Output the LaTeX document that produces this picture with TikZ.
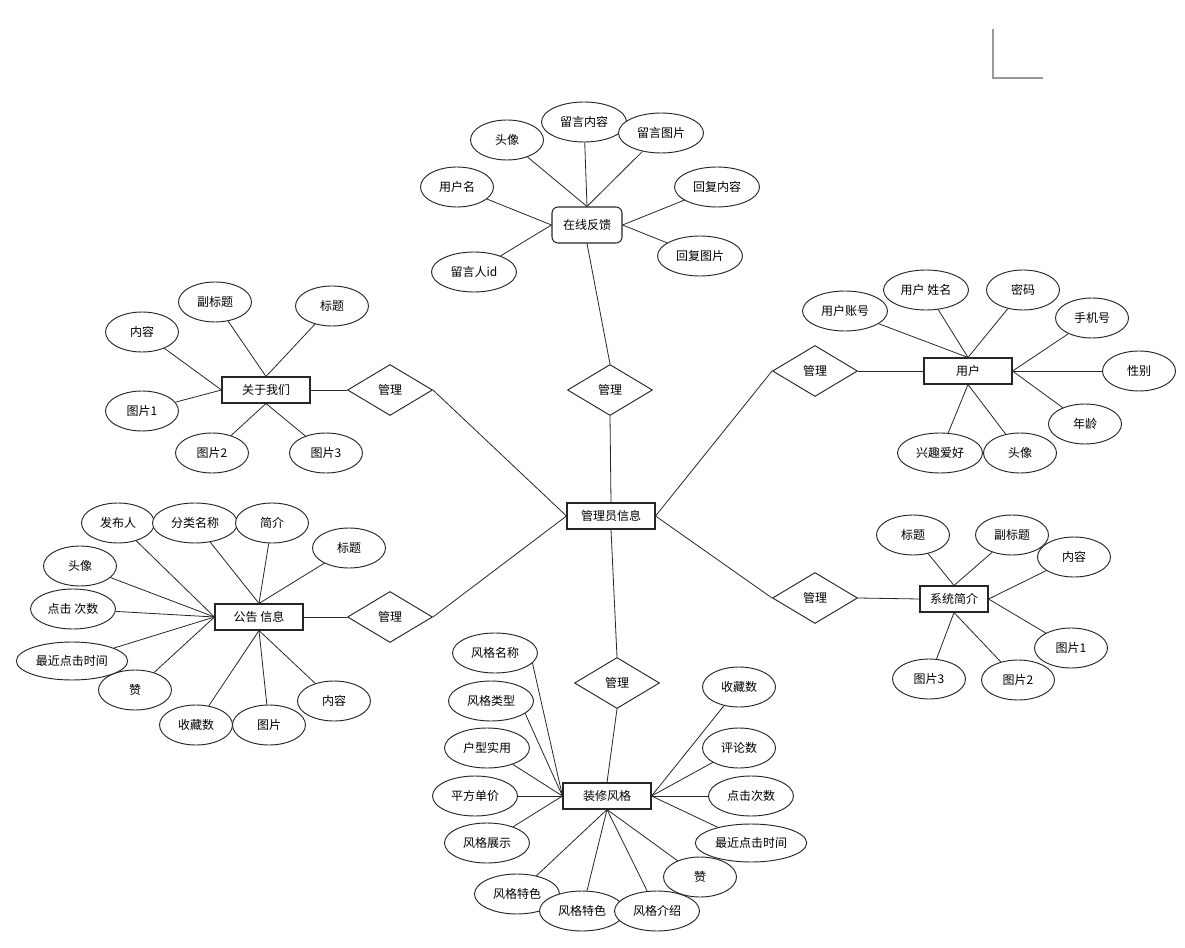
\documentclass[tikz,border=0pt]{standalone}
\usepackage{fontspec}
\usepackage{tikz}
\usetikzlibrary{shapes.geometric}
\newfontfamily\cjk{Noto Sans CJK SC}
\tikzset{
  attr/.style={ellipse, draw=black!85, line width=0.7pt, fill=white, inner sep=0pt,
    minimum width=54.75pt, minimum height=30pt, font=\cjk\fontsize{9}{10}\selectfont},
  attrw/.style={attr, minimum width=63.75pt},
  attrx/.style={attr, minimum width=83.5pt, minimum height=28.5pt},
  entity/.style={draw=black!85, line width=0.8pt, fill=white, inner sep=0pt,
    minimum width=66pt, minimum height=19.5pt, font=\cjk\fontsize{9}{10}\selectfont},
  feed/.style={entity, rounded corners=4.5pt, minimum width=52.5pt, minimum height=27pt},
  rel/.style={diamond, draw=black!85, line width=0.7pt, fill=white, inner sep=0pt,
    minimum width=63.75pt, minimum height=38.25pt, font=\cjk\fontsize{9}{10}\selectfont},
  link/.style={draw=black!85, line width=0.6pt},
}
\begin{document}
\begin{tikzpicture}[x=0.75pt,y=-0.75pt]
\useasboundingbox (0,0) rectangle (1185,948);
\draw[black!40, line width=0.9pt] (993,29) -- (993,78) -- (1043,78);
% centre
\node[entity] (adm) at (611,516) {管理员信息};
% online feedback
\node[feed] (fb) at (587,225) {在线反馈};
\node[rel] (m1) at (610,390) {管理};
\node[attr] (fb-avatar) at (507,140) {头像};
\node[attrw] (fb-msg) at (584,122) {留言内容};
\node[attrw] (fb-pic) at (661,133) {留言图片};
\node[attr] (fb-user) at (457,187) {用户名};
\node[attrw] (fb-reply) at (717,187) {回复内容};
\node[attrw] (fb-uid) at (474,272) {留言人id};
\node[attrw] (fb-rpic) at (700,256) {回复图片};
% about us
\node[entity] (ab) at (266,390) {关于我们};
\node[rel] (m2) at (390,390) {管理};
\node[attr] (ab-content) at (142,332) {内容};
\node[attr] (ab-sub) at (215,302) {副标题};
\node[attr] (ab-title) at (332,306) {标题};
\node[attr] (ab-p1) at (142,411) {图片1};
\node[attr] (ab-p2) at (212,453) {图片2};
\node[attr] (ab-p3) at (326,453) {图片3};
% user
\node[entity] (us) at (968,371) {用户};
\node[rel] (m3) at (815,371) {管理};
\node[attrw] (us-acc) at (845,311) {用户账号};
\node[attrw] (us-name) at (926,290) {用户 姓名};
\node[attr] (us-pwd) at (1023,290) {密码};
\node[attr] (us-phone) at (1092,318) {手机号};
\node[attr] (us-sex) at (1139,371) {性别};
\node[attr] (us-age) at (1085,424) {年龄};
\node[attrw] (us-hobby) at (940,453) {兴趣爱好};
\node[attr] (us-avatar) at (1020,453) {头像};
% notice
\node[entity] (nt) at (259,617) {公告 信息};
\node[rel] (m4) at (390,617) {管理};
\node[attr] (nt-pub) at (118,523) {发布人};
\node[attrw] (nt-cat) at (195,523) {分类名称};
\node[attr] (nt-intro) at (272,523) {简介};
\node[attr] (nt-title) at (349,548) {标题};
\node[attr] (nt-avatar) at (80,566) {头像};
\node[attrw] (nt-clicks) at (73,609) {点击 次数};
\node[attr] (nt-like) at (135,690) {赞};
\node[attrx] (nt-last) at (72,661) {最近点击时间};
\node[attr] (nt-fav) at (196,725) {收藏数};
\node[attr] (nt-pic) at (269,725) {图片};
\node[attr] (nt-content) at (334,701) {内容};
% system intro
\node[entity, minimum width=51pt] (sy) at (954,599) {系统简介};
\node[rel] (m5) at (815,598) {管理};
\node[attr] (sy-title) at (913,535) {标题};
\node[attr] (sy-sub) at (1012,535) {副标题};
\node[attr] (sy-content) at (1074,557) {内容};
\node[attr] (sy-p1) at (1071,648) {图片1};
\node[attr] (sy-p2) at (1018,680) {图片2};
\node[attr] (sy-p3) at (929,679) {图片3};
% decoration style
\node[entity] (st) at (607,796) {装修风格};
\node[rel] (m6) at (617,683) {管理};
\node[attrw] (st-name) at (495,653) {风格名称};
\node[attrw] (st-type) at (491,701) {风格类型};
\node[attrw] (st-layout) at (487,748) {户型实用};
\node[attrw] (st-price) at (475,796) {平方单价};
\node[attrw] (st-show) at (487,843) {风格展示};
\node[attrw] (st-feat1) at (517,894) {风格特色};
\node[attrw] (st-feat2) at (582,911) {风格特色};
\node[attrw] (st-desc) at (657,911) {风格介绍};
\node[attr] (st-like) at (700,877) {赞};
\node[attrx] (st-last) at (751,843) {最近点击时间};
\node[attrw] (st-clicks) at (751,796) {点击次数};
\node[attr] (st-cmt) at (739,748) {评论数};
\node[attr] (st-fav) at (739,687) {收藏数};
% connectors
\draw[link] (fb-avatar) -- (fb.north);
\draw[link] (fb-msg) -- (fb.north);
\draw[link] (fb-pic) -- (fb.north);
\draw[link] (fb-user) -- (fb.west);
\draw[link] (fb-uid) -- (fb.west);
\draw[link] (fb-reply) -- (fb.east);
\draw[link] (fb-rpic) -- (fb.east);
\draw[link] (fb.south) -- (m1.north);
\draw[link] (m1.south) -- (adm.north);
\draw[link] (ab-content) -- (ab.west);
\draw[link] (ab-p1) -- (ab.west);
\draw[link] (ab-sub) -- (ab.north);
\draw[link] (ab-title) -- (ab.north);
\draw[link] (ab-p2) -- (ab.south);
\draw[link] (ab-p3) -- (ab.south);
\draw[link] (ab.east) -- (m2.west);
\draw[link] (m2.east) -- (adm.west);
\draw[link] (us-acc) -- (us.north);
\draw[link] (us-name) -- (us.north);
\draw[link] (us-pwd) -- (us.north);
\draw[link] (us-phone) -- (us.east);
\draw[link] (us-sex) -- (us.east);
\draw[link] (us-age) -- (us.east);
\draw[link] (us-hobby) -- (us.south);
\draw[link] (us-avatar) -- (us.south);
\draw[link] (m3.east) -- (us.west);
\draw[link] (m3.west) -- (adm.east);
\draw[link] (nt-pub) -- (nt.west);
\draw[link] (nt-avatar) -- (nt.west);
\draw[link] (nt-clicks) -- (nt.west);
\draw[link] (nt-last) -- (nt.west);
\draw[link] (nt-like) -- (nt.west);
\draw[link] (nt-cat) -- (nt.north);
\draw[link] (nt-intro) -- (nt.north);
\draw[link] (nt-title) -- (nt.north);
\draw[link] (nt-fav) -- (nt.south);
\draw[link] (nt-pic) -- (nt.south);
\draw[link] (nt-content) -- (nt.south);
\draw[link] (nt.east) -- (m4.west);
\draw[link] (m4.east) -- (adm.west);
\draw[link] (sy-title) -- (sy.north);
\draw[link] (sy-sub) -- (sy.north);
\draw[link] (sy-content) -- (sy.east);
\draw[link] (sy-p1) -- (sy.east);
\draw[link] (sy-p2) -- (sy.south);
\draw[link] (sy-p3) -- (sy.south);
\draw[link] (m5.east) -- (sy.west);
\draw[link] (m5.west) -- (adm.east);
\draw[link] (adm.south) -- (m6.north);
\draw[link] (m6.south) -- (st.north);
% the two top tails leave their ovals on the right side
\draw[link] (st-name.-15) -- (st.west);
\draw[link] (st-type.-20) -- (st.west);
\draw[link] (st-layout) -- (st.west);
\draw[link] (st-price) -- (st.west);
\draw[link] (st-show) -- (st.west);
\draw[link] (st-feat1) -- (st.south);
\draw[link] (st-feat2) -- (st.south);
\draw[link] (st-desc) -- (st.south);
\draw[link] (st-like) -- (st.south);
\draw[link] (st-last) -- (st.east);
\draw[link] (st-clicks) -- (st.east);
\draw[link] (st-cmt) -- (st.east);
\draw[link] (st-fav) -- (st.east);
\end{tikzpicture}
\end{document}
